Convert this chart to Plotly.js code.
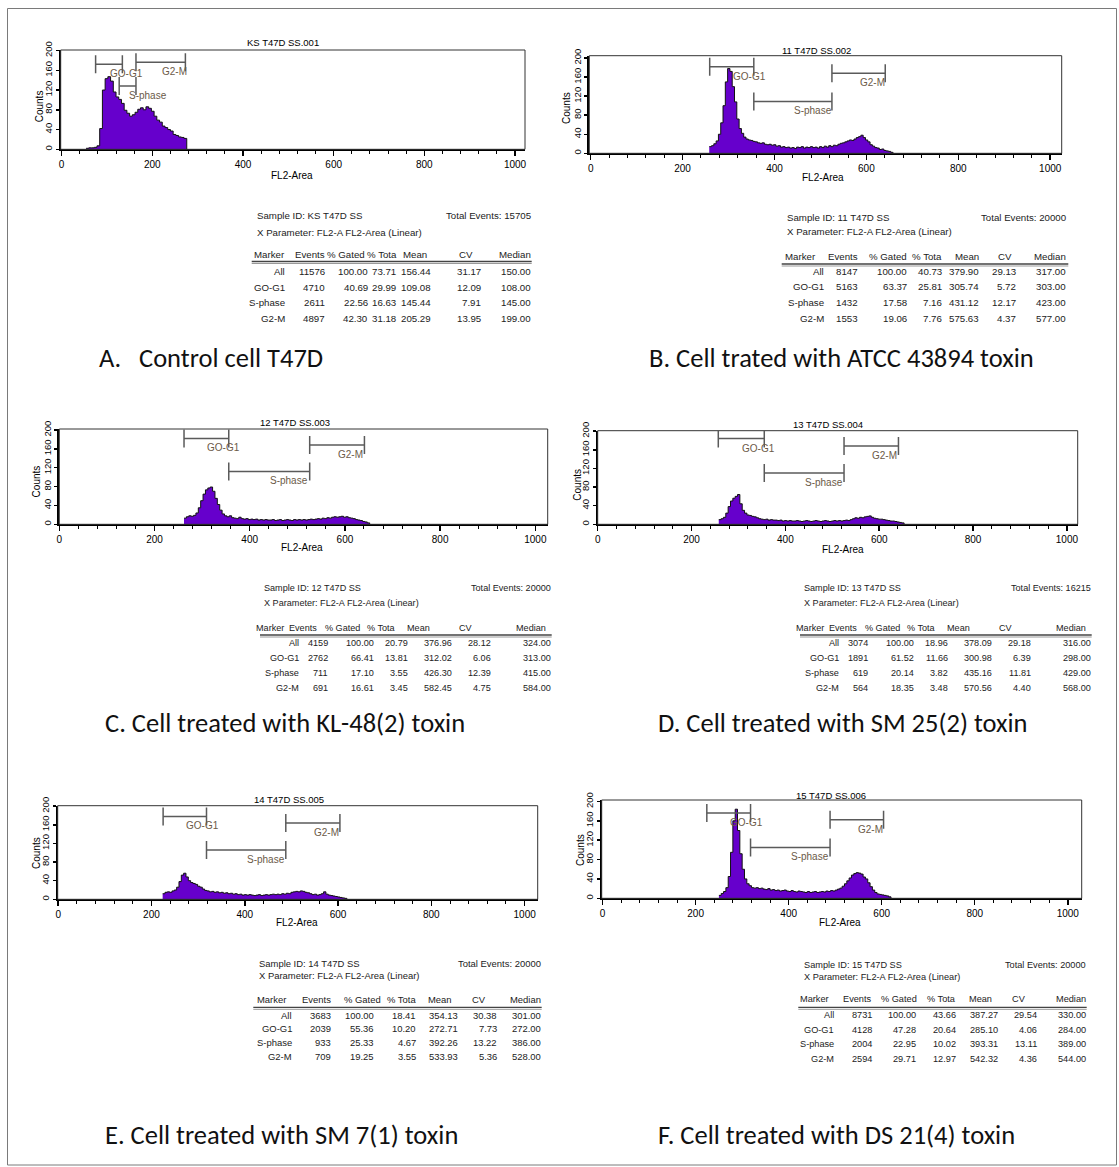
<!DOCTYPE html>
<html><head><meta charset="utf-8">
<script src="https://cdn.plot.ly/plotly-3.0.1.min.js"></script>
<style>html,body{margin:0;padding:0;background:#fff}#chart{width:1119px;height:1167px}</style>
</head><body><div id="chart"></div>
<script>
const W = 1119, H = 1167;

// ---------------- DATA ----------------
const plotTitles = ["KS T47D SS.001", "11 T47D SS.002", "12 T47D SS.003", "13 T47D SS.004", "14 T47D SS.005", "15 T47D SS.006"];
const sampleIds = ["KS T47D SS", "11 T47D SS", "12 T47D SS", "13 T47D SS", "14 T47D SS", "15 T47D SS"];
const totalEvents = ["15705", "20000", "20000", "16215", "20000", "20000"];
const captionLetters = ["A.", "B.", "C.", "D.", "E.", "F."];
const captionTexts = ["Control cell T47D", "Cell trated with ATCC 43894 toxin", "Cell treated with KL-48(2) toxin",
  "Cell treated with SM 25(2) toxin", "Cell treated with SM 7(1) toxin", "Cell treated with DS 21(4) toxin"];
const xParameter = "X Parameter: FL2-A FL2-Area (Linear)";
const xAxisLabel = "FL2-Area";
const yAxisLabel = "Counts";
const tableHeaders = ["Marker", "Events", "% Gated", "% Tota", "Mean", "CV", "Median"];
const markerNames = ["All", "GO-G1", "S-phase", "G2-M"];
const gateNames = ["GO-G1", "S-phase", "G2-M"];

// histogram channels: first bin and bin width, then counts per bin
const binStart = [54, 258, 262, 258, 224, 250];
const binWidth = [6, 5, 5, 5, 5, 5];
const countsA = [2,3,3,4,7,42,120,143,147,138,116,106,101,93,79,73,67,70,75,81,84,80,86,83,77,67,59,55,47,44,40,37,30,28,25,24,22,0];
const countsB = [14,16,20,26,40,64,100,150,178,172,140,108,72,52,42,34,30,28,27,25,24,22,21,22,19,18,19,17,18,15,16,13,14,12,13,11,12,10,13,12,14,11,13,12,14,12,13,11,14,12,15,13,16,14,17,16,19,21,22,24,26,28,27,30,33,35,38,33,28,24,18,15,12,11,8,9,6,5,4,2,0];
const countsC = [13,16,18,17,19,24,35,50,64,73,77,79,70,55,42,30,22,18,16,18,14,13,12,15,12,11,12,10,11,10,11,9,10,9,10,9,9,10,8,9,10,8,9,10,9,8,10,9,10,9,10,9,10,11,10,11,12,11,13,12,14,13,15,16,15,16,17,15,16,14,13,12,10,9,8,6,5,3,0];
const countsD = [10,12,15,24,38,50,56,60,64,44,30,24,20,19,17,16,14,12,11,10,11,9,10,9,9,8,9,7,8,7,8,7,7,8,7,6,7,8,7,6,7,8,7,6,7,8,7,6,7,8,7,8,7,8,9,8,10,12,14,13,15,14,16,17,18,15,13,12,11,11,10,9,8,7,7,6,5,4,3,0];
const countsE = [12,15,16,15,18,20,26,38,52,56,48,40,36,34,32,28,26,22,19,18,16,17,15,16,14,15,13,14,12,13,11,12,10,11,9,10,9,10,9,8,9,10,8,9,10,9,10,11,10,11,10,12,11,13,12,15,16,17,16,18,17,15,14,12,10,11,9,10,12,16,11,9,8,7,6,5,4,3,2,0];
const countsF = [6,10,14,22,45,95,160,184,140,92,60,40,30,26,22,21,22,20,21,19,18,20,17,18,16,17,15,16,17,15,14,16,14,13,15,14,13,12,14,12,13,14,12,13,14,13,15,14,16,15,17,19,21,25,30,36,42,48,51,53,52,50,44,40,32,24,17,12,9,8,7,6,5,3,0];
const allCounts = [countsA, countsB, countsC, countsD, countsE, countsF];

// gate ranges [GO-G1, S-phase, G2-M] in FL2-Area channels
const gatesA = [[75,134],[127,164],[164,273]];
const gatesB = [[259,355],[355,525],[525,641]];
const gatesC = [[262,356],[356,526],[526,641]];
const gatesD = [[257,355],[355,525],[525,641]];
const gatesE = [[225,318],[318,488],[488,604]];
const gatesF = [[224,318],[318,489],[489,604]];
const allGates = [gatesA, gatesB, gatesC, gatesD, gatesE, gatesF];

// statistics tables (rows: All, GO-G1, S-phase, G2-M)
const eventsTab = [[11576,4710,2611,4897],[8147,5163,1432,1553],[4159,2762,711,691],[3074,1891,619,564],[3683,2039,933,709],[8731,4128,2004,2594]];
const gatedTab  = [[100.00,40.69,22.56,42.30],[100.00,63.37,17.58,19.06],[100.00,66.41,17.10,16.61],[100.00,61.52,20.14,18.35],[100.00,55.36,25.33,19.25],[100.00,47.28,22.95,29.71]];
const totalTab  = [[73.71,29.99,16.63,31.18],[40.73,25.81,7.16,7.76],[20.79,13.81,3.55,3.45],[18.96,11.66,3.82,3.48],[18.41,10.20,4.67,3.55],[43.66,20.64,10.02,12.97]];
const meanTab   = [[156.44,109.08,145.44,205.29],[379.90,305.74,431.12,575.63],[376.96,312.02,426.30,582.45],[378.09,300.98,435.16,570.56],[354.13,272.71,392.26,533.93],[387.27,285.10,393.31,542.32]];
const cvTab     = [[31.17,12.09,7.91,13.95],[29.13,5.72,12.17,4.37],[28.12,6.06,12.39,4.75],[29.18,6.39,11.81,4.40],[30.38,7.73,13.22,5.36],[29.54,4.06,13.11,4.36]];
const medianTab = [[150.00,108.00,145.00,199.00],[317.00,303.00,423.00,577.00],[324.00,313.00,415.00,584.00],[316.00,298.00,429.00,568.00],[301.00,272.00,386.00,528.00],[330.00,284.00,389.00,544.00]];
const xTickVals = [0, 200, 400, 600, 800, 1000];
const yTickVals = [0, 40, 80, 120, 160, 200];

// ---------------- LAYOUT GEOMETRY (pixels) ----------------
const geo = [
 {L:60.7,R:525,T:50,B:149.3,xr:[-2,1022],yr:[0,201],title:[283.3,42.3],xt:[292,175.7],yt:[39.3,106],lv:[172,128,176],
  tab:{fs:9.7,x0:256,yId:215.7,yPar:232.3,totR:531.7,hdr:254.3,line:261.5,lL:251.7,lR:531.7,rows:[271.7,287.3,302.3,318.3],
       cols:[286,326,369,396.7,432,482.3,531.7], hcols:[286,326,366,397.7,427.7,474,531.7]},
  cap:[98,138,358]},
 {L:589.3,R:1061.7,T:55.7,B:153.3,xr:[-3,1025],yr:[0,205],title:[816.7,50],xt:[823.3,177.7],yt:[566.7,108.3],lv:[182,109,168],
  tab:{fs:9.7,x0:786,yId:217.7,yPar:231.7,totR:1068.3,hdr:256.7,line:264,lL:781.7,lR:1068.3,rows:[271.7,286.7,302.7,318.3],
       cols:[825,859,907.7,943.3,980,1016.7,1066.7], hcols:[816.7,859,907.7,943.3,980,1013.3,1066.7]},
  cap:[648,null,358]},
 {L:59.3,R:547.7,T:429,B:524.3,xr:[0,1026],yr:[0,202],title:[295,422.3],xt:[301.7,547.7],yt:[36.7,481.7],lv:[182,112,168],
  tab:{fs:9.1,x0:262.7,yId:588.3,yPar:602.7,totR:551.7,hdr:628.3,line:635,lL:260,lR:551.7,rows:[642.7,657.7,672.7,688.3],
       cols:[300,329.3,375,409.3,453.3,491.7,551.7], hcols:[285,318,361,396.7,431,474,547]},
  cap:[104,null,723]},
 {L:597.7,R:1077.7,T:430.7,B:524.3,xr:[0,1023],yr:[0,201],title:[828.3,424.3],xt:[843.3,550],yt:[576.7,485],lv:[184,110,168],
  tab:{fs:9.1,x0:802.7,yId:588.3,yPar:602.7,totR:1091.7,hdr:628.3,line:635,lL:800,lR:1091.7,rows:[642.7,657.7,672.7,688.3],
       cols:[840,869.3,915,949.3,993.3,1031.7,1091.7], hcols:[825,858,901,936.7,971,1014,1087]},
  cap:[657,null,723]},
 {L:57.7,R:537.7,T:805.7,B:899.3,xr:[-1,1028],yr:[0,201],title:[289,799],xt:[296.7,922.7],yt:[36.7,853.3],lv:[178,106,164],
  tab:{fs:9.45,x0:258.3,yId:963.3,yPar:975,totR:541.7,hdr:999.3,line:1007.3,lL:253.3,lR:541.7,rows:[1015,1028.3,1042.7,1056.7],
       cols:[292.7,331.7,375,416.7,459.3,498.3,541.7], hcols:[286.7,331.7,381.7,416.7,453.3,486.7,541.7]},
  cap:[104,null,1135]},
 {L:601.7,R:1081.7,T:800,B:898.3,xr:[-2,1030],yr:[0,203],title:[830.7,795],xt:[840,922.7],yt:[580,850],lv:[176,105,162],
  tab:{fs:9.2,x0:803.3,yId:965,yPar:976.7,totR:1086.7,hdr:999.3,line:1007.3,lL:798.3,lR:1086.7,rows:[1015,1030,1044.3,1059.3],
       cols:[835,872.7,916.7,956.7,999.3,1038.3,1086.7], hcols:[830,871.7,918.3,956.7,993.3,1026.7,1086.7]},
  cap:[657,null,1135]}
];

const FONT = 'Liberation Sans, Arial, sans-serif';
const CAPFONT = 'Carlito, Lato, sans-serif';
const px = x => x / W, py = y => 1 - y / H;

const layout = {
  width: W, height: H, margin: {l:0, r:0, t:0, b:0},
  paper_bgcolor: '#ffffff', plot_bgcolor: 'rgba(0,0,0,0)', showlegend: false,
  font: {family: FONT, color: '#000'},
  shapes: [], annotations: []
};
const traces = [];

function ann(text, x, y, o) {
  layout.annotations.push(Object.assign({
    text: text, x: px(x), y: py(y), xref: 'paper', yref: 'paper', showarrow: false,
    xanchor: 'left', yanchor: 'middle', borderpad: 0,
    font: {size: 9.7, color: '#222', family: FONT}
  }, o || {}));
}
function pline(x0, y0, x1, y1, color, width) {
  layout.shapes.push({type: 'line', xref: 'paper', yref: 'paper', x0: px(x0), y0: py(y0), x1: px(x1), y1: py(y1),
    line: {color: color, width: width}});
}

// outer frame
layout.shapes.push({type:'rect', xref:'paper', yref:'paper', x0:px(7.5), x1:px(1116.5), y0:py(1165), y1:py(8.5),
  line:{color:'#7a7a7a', width:1}, fillcolor:'rgba(0,0,0,0)'});

const fmt2 = v => v.toFixed(2);

geo.forEach((g, i) => {
  const s = i === 0 ? '' : String(i + 1);
  layout['xaxis' + s] = {
    domain: [px(g.L), px(g.R)], range: g.xr, anchor: 'y' + s, fixedrange: true,
    showgrid: false, zeroline: false, showline: true, linecolor: '#000', linewidth: 2,
    tickmode: 'array', tickvals: xTickVals, ticks: 'outside', ticklen: 5, tickwidth: 1.5, tickcolor: '#000',
    minor: {dtick: 40, tick0: 0, ticks: 'outside', ticklen: 3, tickwidth: 1, tickcolor: '#000', showgrid: false},
    tickfont: {size: 10, family: FONT, color: '#000'}
  };
  layout['yaxis' + s] = {
    domain: [py(g.B), py(g.T)], range: g.yr, anchor: 'x' + s, fixedrange: true,
    showgrid: false, zeroline: false, showline: true, linecolor: '#000', linewidth: 2,
    tickmode: 'array', tickvals: yTickVals, ticks: 'outside', ticklen: 3, tickwidth: 1.5, tickcolor: '#000',
    tickangle: -90, tickfont: {size: 9.5, family: FONT, color: '#000'}
  };
  // thin frame around plot box
  layout.shapes.push({type:'rect', xref:'paper', yref:'paper', x0:px(g.L), x1:px(g.R), y0:py(g.B), y1:py(g.T),
    line:{color:'#333', width:1}, fillcolor:'rgba(0,0,0,0)'});

  traces.push({
    type: 'scatter', mode: 'lines', x0: binStart[i], dx: binWidth[i], y: allCounts[i],
    xaxis: 'x' + s, yaxis: 'y' + s, fill: 'tozeroy', fillcolor: '#6600cc',
    line: {color: '#111', width: 1, shape: 'hv'}, hoverinfo: 'skip'
  });

  // gates
  allGates[i].forEach((gt, k) => {
    const lv = g.lv[k];
    const lc = {color: '#5a5a5a', width: 1.5};
    layout.shapes.push({type:'line', xref:'x'+s, yref:'y'+s, x0:gt[0], x1:gt[1], y0:lv, y1:lv, line:lc});
    [gt[0], gt[1]].forEach(xx => layout.shapes.push({type:'line', xref:'x'+s, yref:'y'+s, x0:xx, x1:xx,
      ysizemode:'pixel', yanchor:lv, y0:-9, y1:9, line:lc}));
    layout.annotations.push({text: gateNames[k], x: (gt[0] + gt[1]) / 2, y: lv, xref: 'x' + s, yref: 'y' + s,
      showarrow: false, xanchor: 'left', yanchor: 'middle', yshift: -9.5, borderpad: 0,
      font: {size: 10, color: '#6b5a48', family: FONT}});
  });

  // plot title, axis titles
  ann(plotTitles[i], g.title[0], g.title[1], {xanchor: 'center', font: {size: 9.5, color: '#000', family: FONT}});
  ann(xAxisLabel, g.xt[0], g.xt[1], {xanchor: 'center', font: {size: 10, color: '#000', family: FONT}});
  ann(yAxisLabel, g.yt[0], g.yt[1], {xanchor: 'center', textangle: -90, font: {size: 10, color: '#000', family: FONT}});

  // table
  const t = g.tab;
  const tf = {size: t.fs, color: '#222', family: FONT};
  ann('Sample ID: ' + sampleIds[i], t.x0, t.yId, {font: tf});
  ann('Total Events: ' + totalEvents[i], t.totR, t.yId, {xanchor: 'right', font: tf});
  ann(xParameter, t.x0, t.yPar, {font: tf});
  tableHeaders.forEach((h, c) => ann(h, t.hcols[c], t.hdr, {xanchor: 'right', font: tf}));
  pline(t.lL, t.line, t.lR, t.line, '#444', 1.3);
  pline(t.lL, t.line + 2, t.lR, t.line + 2, '#999', 1);
  markerNames.forEach((m, r) => {
    const vals = [m, String(eventsTab[i][r]), fmt2(gatedTab[i][r]), fmt2(totalTab[i][r]),
      fmt2(meanTab[i][r]), fmt2(cvTab[i][r]), fmt2(medianTab[i][r])];
    vals.forEach((v, c) => ann(v, t.cols[c], t.rows[r], {xanchor: 'right', font: tf}));
  });

  // caption
  const capFont = {size: 26.5, color: '#111', family: CAPFONT};
  if (g.cap[1] !== null) {
    ann(captionLetters[i], g.cap[0], g.cap[2], {font: capFont});
    ann(captionTexts[i], g.cap[1], g.cap[2], {font: capFont});
  } else {
    ann(captionLetters[i] + ' ' + captionTexts[i], g.cap[0], g.cap[2], {font: capFont});
  }
});

Plotly.newPlot('chart', traces, layout, {displayModeBar: false, staticPlot: true});
</script>
</body></html>
